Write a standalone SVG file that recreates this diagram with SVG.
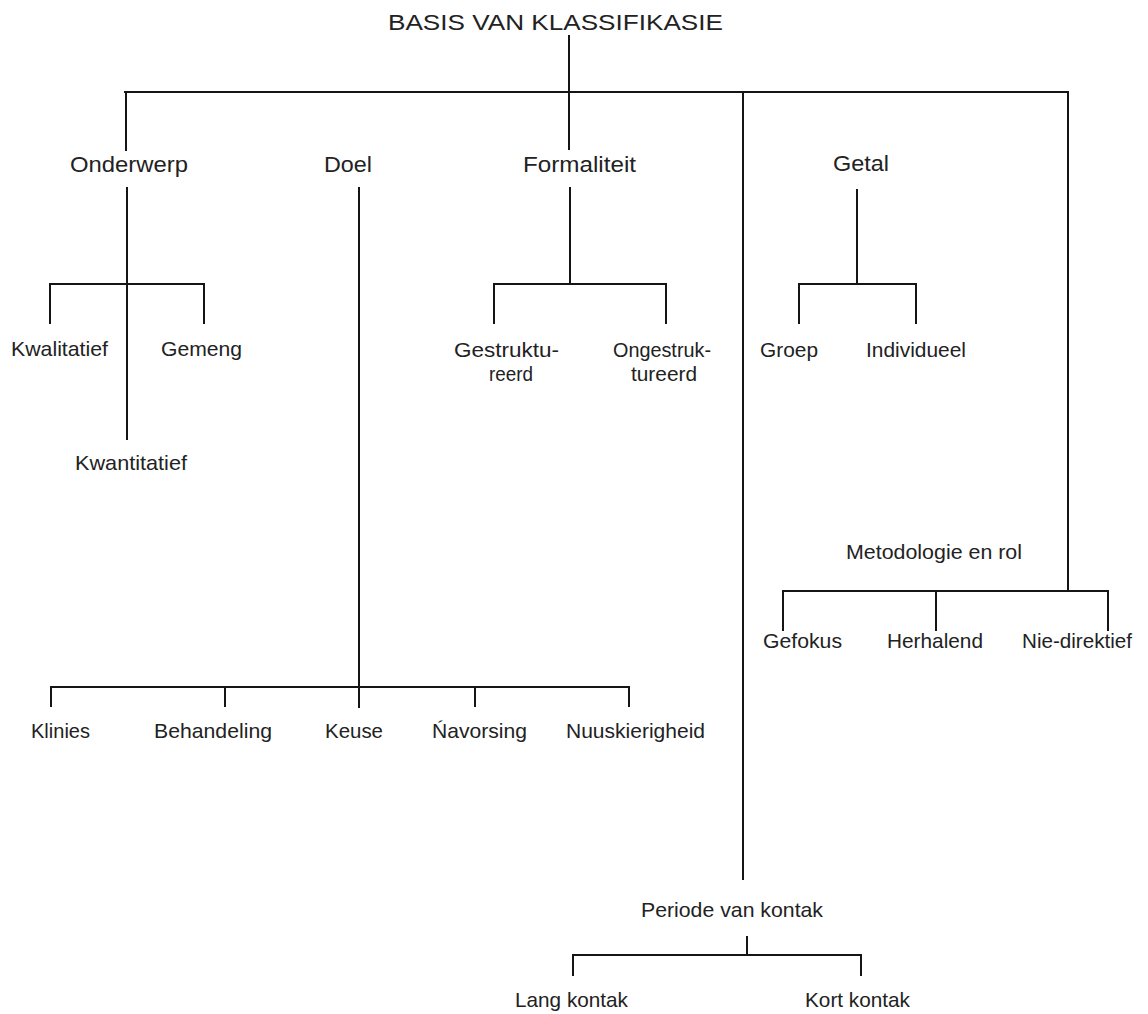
<svg xmlns="http://www.w3.org/2000/svg" width="1148" height="1014" viewBox="0 0 1148 1014">
<style>
.bg{fill:#ffffff}
.c line{stroke:#151515;stroke-width:2;stroke-linecap:square}
text{font-family:"Liberation Sans",Arial,sans-serif;fill:#222222;font-size:21px}
.t{font-size:22px}
.h{font-size:22px}
</style>
<rect class="bg" x="0" y="0" width="1148" height="1014"/>
<g id="connectors" class="c">
<line x1="569" y1="36" x2="569" y2="92"/>
<line x1="125" y1="92" x2="1068" y2="92"/>
<line x1="126" y1="92" x2="126" y2="150"/>
<line x1="569" y1="92" x2="569" y2="149"/>
<line x1="743" y1="92" x2="743" y2="879"/>
<line x1="1068" y1="92" x2="1068" y2="591"/>
<line x1="127" y1="188" x2="127" y2="439"/>
<line x1="50" y1="284" x2="204" y2="284"/>
<line x1="50" y1="284" x2="50" y2="323"/>
<line x1="204" y1="284" x2="204" y2="323"/>
<line x1="359" y1="188" x2="359" y2="707"/>
<line x1="51" y1="687" x2="629" y2="687"/>
<line x1="51" y1="687" x2="51" y2="706"/>
<line x1="225" y1="687" x2="225" y2="706"/>
<line x1="475" y1="687" x2="475" y2="706"/>
<line x1="629" y1="687" x2="629" y2="706"/>
<line x1="570" y1="188" x2="570" y2="284"/>
<line x1="494" y1="284" x2="666" y2="284"/>
<line x1="494" y1="284" x2="494" y2="323"/>
<line x1="666" y1="284" x2="666" y2="323"/>
<line x1="857" y1="190" x2="857" y2="284"/>
<line x1="799" y1="284" x2="916" y2="284"/>
<line x1="799" y1="284" x2="799" y2="323"/>
<line x1="916" y1="284" x2="916" y2="323"/>
<line x1="783" y1="591" x2="1108" y2="591"/>
<line x1="783" y1="591" x2="783" y2="630"/>
<line x1="936" y1="591" x2="936" y2="630"/>
<line x1="1108" y1="591" x2="1108" y2="630"/>
<line x1="747" y1="937" x2="747" y2="955"/>
<line x1="573" y1="955" x2="861" y2="955"/>
<line x1="573" y1="955" x2="573" y2="975"/>
<line x1="861" y1="955" x2="861" y2="975"/>
</g>
<g id="basis"><text class="t" x="388" y="29.5" textLength="335" lengthAdjust="spacingAndGlyphs">BASIS VAN KLASSIFIKASIE</text></g>
<g id="onderwerp"><text class="h" x="70" y="172" textLength="118" lengthAdjust="spacingAndGlyphs">Onderwerp</text></g>
<g id="doel"><text class="h" x="324" y="172" textLength="48" lengthAdjust="spacingAndGlyphs">Doel</text></g>
<g id="formaliteit"><text class="h" x="523" y="172" textLength="113" lengthAdjust="spacingAndGlyphs">Formaliteit</text></g>
<g id="getal"><text class="h" x="833" y="171" textLength="56" lengthAdjust="spacingAndGlyphs">Getal</text></g>
<g id="kwalitatief"><text x="11" y="356" textLength="97" lengthAdjust="spacingAndGlyphs">Kwalitatief</text></g>
<g id="gemeng"><text x="161" y="356" textLength="81" lengthAdjust="spacingAndGlyphs">Gemeng</text></g>
<g id="kwantitatief"><text x="75" y="470" textLength="112" lengthAdjust="spacingAndGlyphs">Kwantitatief</text></g>
<g id="gestruktureerd"><text x="454" y="357" textLength="105" lengthAdjust="spacingAndGlyphs">Gestruktu-</text><text x="489" y="381" textLength="44" lengthAdjust="spacingAndGlyphs">reerd</text></g>
<g id="ongestruktureerd"><text x="613" y="357" textLength="98" lengthAdjust="spacingAndGlyphs">Ongestruk-</text><text x="631" y="381" textLength="66" lengthAdjust="spacingAndGlyphs">tureerd</text></g>
<g id="groep"><text x="760" y="357" textLength="58" lengthAdjust="spacingAndGlyphs">Groep</text></g>
<g id="individueel"><text x="866" y="357" textLength="100" lengthAdjust="spacingAndGlyphs">Individueel</text></g>
<g id="metodologie"><text x="846" y="559" textLength="176" lengthAdjust="spacingAndGlyphs">Metodologie en rol</text></g>
<g id="gefokus"><text x="763" y="648" textLength="79" lengthAdjust="spacingAndGlyphs">Gefokus</text></g>
<g id="herhalend"><text x="887" y="648" textLength="96" lengthAdjust="spacingAndGlyphs">Herhalend</text></g>
<g id="niedirektief"><text x="1022" y="648" textLength="110" lengthAdjust="spacingAndGlyphs">Nie-direktief</text></g>
<g id="klinies"><text x="31" y="738" textLength="59" lengthAdjust="spacingAndGlyphs">Klinies</text></g>
<g id="behandeling"><text x="154" y="738" textLength="118" lengthAdjust="spacingAndGlyphs">Behandeling</text></g>
<g id="keuse"><text x="325" y="738" textLength="58" lengthAdjust="spacingAndGlyphs">Keuse</text></g>
<g id="navorsing"><text x="432" y="738" textLength="95" lengthAdjust="spacingAndGlyphs">Ńavorsing</text></g>
<g id="nuuskierigheid"><text x="566" y="738" textLength="139" lengthAdjust="spacingAndGlyphs">Nuuskierigheid</text></g>
<g id="periode"><text x="641" y="917" textLength="182" lengthAdjust="spacingAndGlyphs">Periode van kontak</text></g>
<g id="langkontak"><text x="515" y="1007" textLength="113" lengthAdjust="spacingAndGlyphs">Lang kontak</text></g>
<g id="kortkontak"><text x="805" y="1007" textLength="105" lengthAdjust="spacingAndGlyphs">Kort kontak</text></g>
</svg>
